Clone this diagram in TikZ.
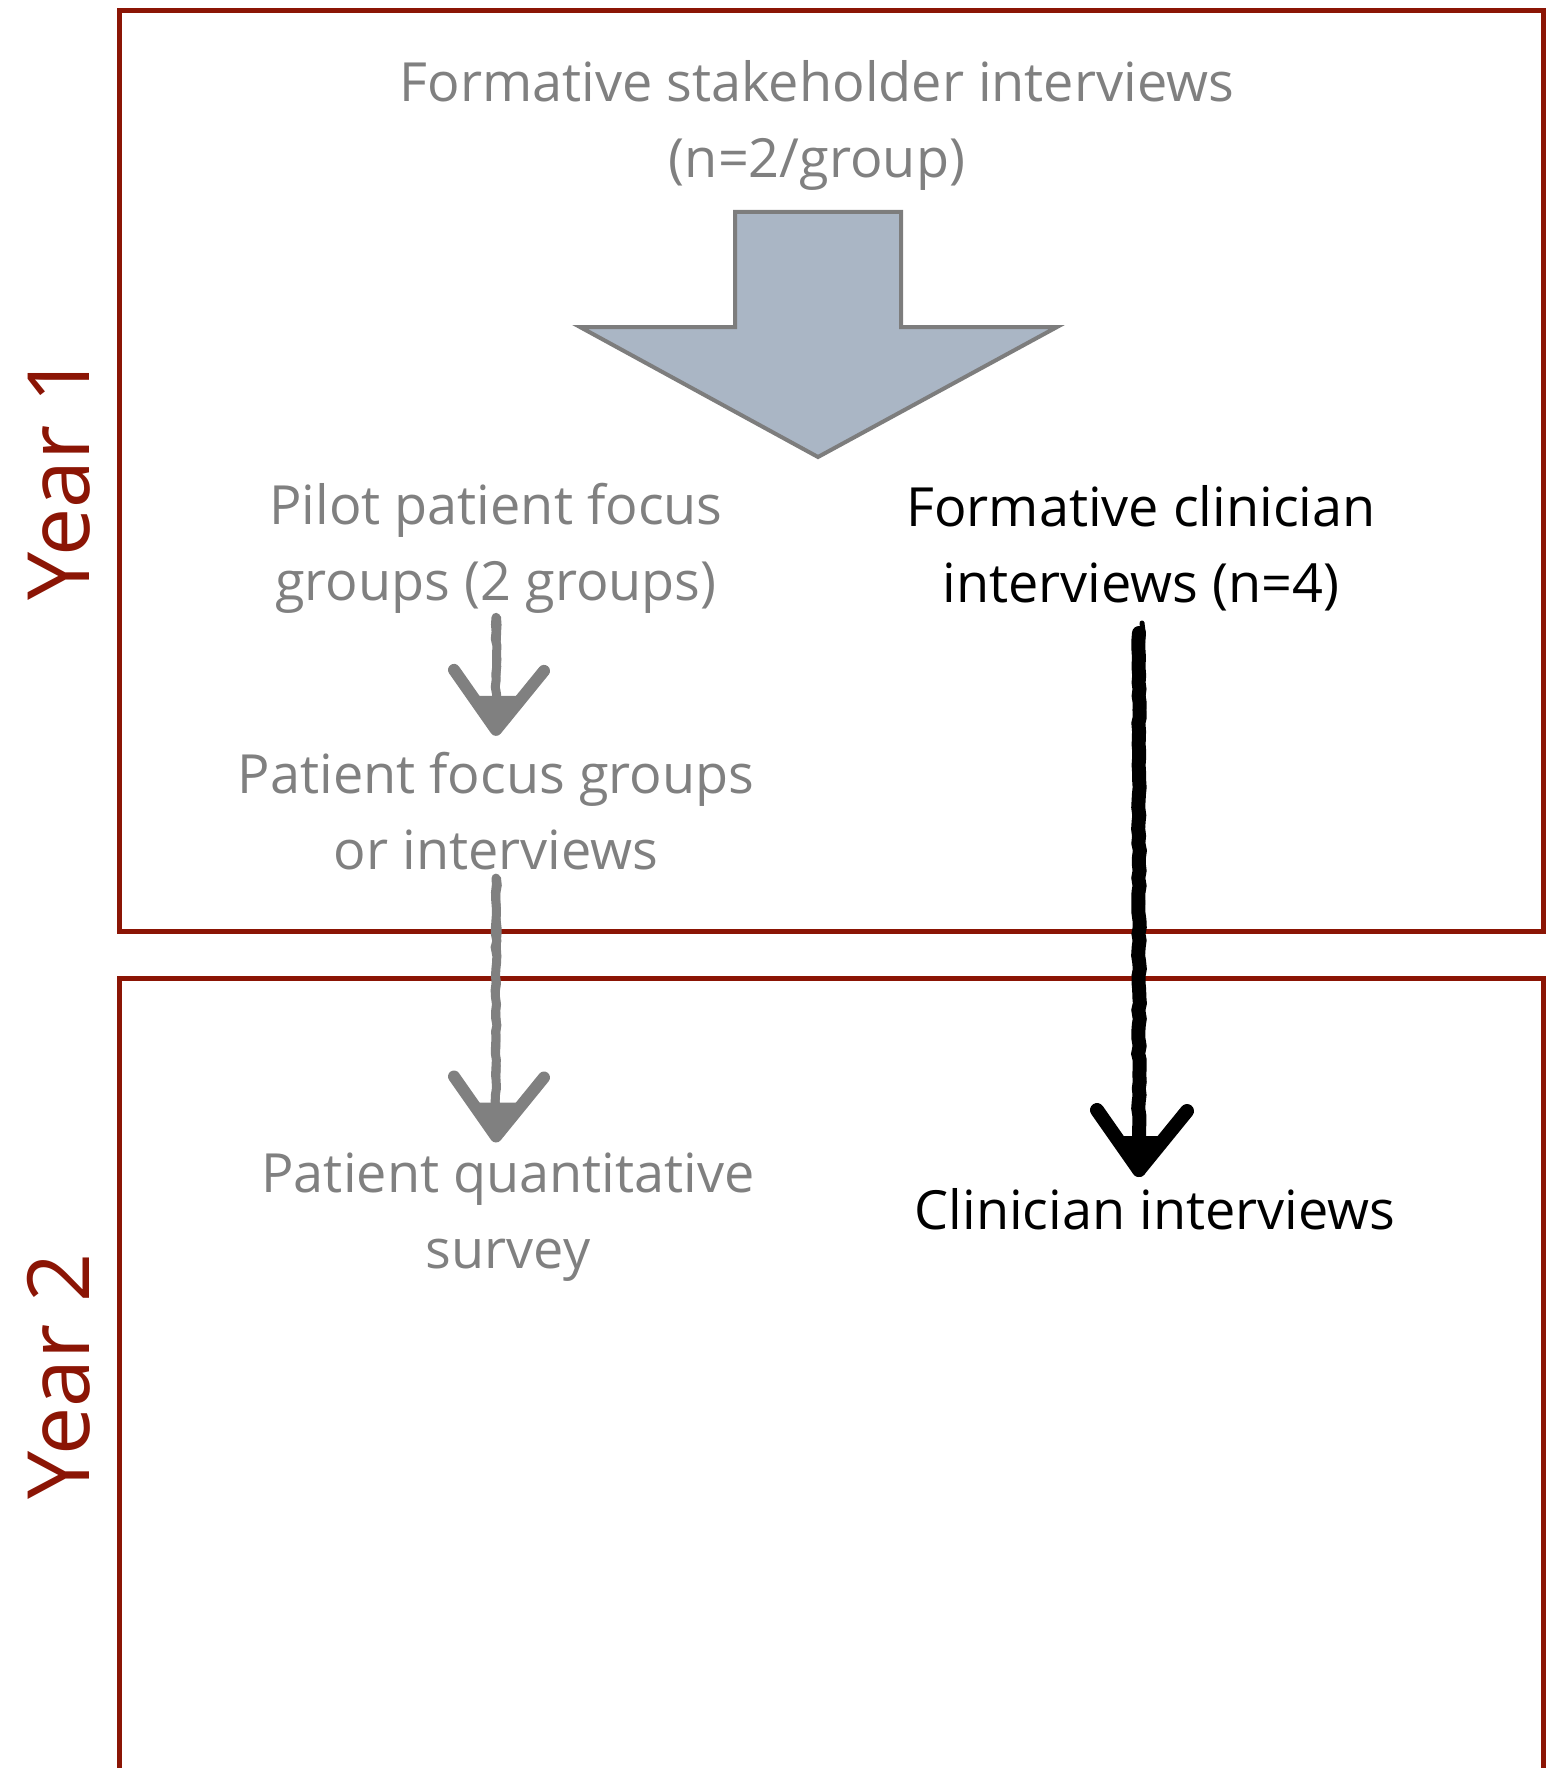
\documentclass[tikz,border=0pt]{standalone}
\usepackage{fontspec}
\setmainfont{Open Sans}
\usetikzlibrary{calc,decorations.pathmorphing}

\definecolor{yearred}{RGB}{139,21,5}
\definecolor{softgray}{RGB}{128,128,128}
\definecolor{bigfill}{RGB}{170,182,197}
\definecolor{bigline}{RGB}{125,125,125}

\tikzset{
  yearbox/.style={draw=yearred, line width=5pt},
  yearlabel/.style={text=yearred, rotate=90, font=\fontsize{86}{86}\selectfont, inner sep=0pt},
  stage/.style={align=center, inner sep=0pt, font=\fontsize{54}{76}\selectfont},
  greystage/.style={stage, text=softgray},
  darkstage/.style={stage, text=black},
  roughshaft/.style={line cap=round, decorate,
    decoration={random steps, segment length=7pt, amplitude=0.9pt}},
  roughhead/.style={line cap=round, line join=round, line width=12pt},
}

% brush-like arrow head ending at the given coordinate
\newcommand{\brushhead}[3]{%
  \draw[#1, roughhead, line width=#2] ($(#3)+(-42,-60)$) -- (#3) -- ($(#3)+(48,-59)$);
  \fill[#1] ($(#3)+(-22,-34)$) -- (#3) -- ($(#3)+(24,-34)$) -- cycle;
}

\begin{document}
\begin{tikzpicture}[x=1pt, y=-1pt]
  \pgfmathsetseed{42}
  \useasboundingbox (0,0) rectangle (1553,1768);

  % year frames (the second one runs off the bottom)
  \draw[yearbox] (119,11) rectangle (1543,931);
  \draw[yearbox] (119,1790) -- (119,978) -- (1543,978) -- (1543,1790);

  \node[yearlabel] (y1) at (59,477) {Year 1};
  \node[yearlabel] (y2) at (59,1376) {Year 2};

  % stages
  \node[greystage] (stake) at (817,125) {Formative stakeholder interviews\\(n=2/group)};
  \node[greystage] (pilot) at (496,548) {Pilot patient focus\\groups (2 groups)};
  \node[darkstage] (fci) at (1141,548) {Formative clinician\\interviews (n=4)};
  \node[greystage] (pfg) at (496,811) {Patient focus groups\\or interviews};
  \node[greystage] (pqs) at (508,1217) {Patient quantitative\\survey};
  \node[darkstage] (ci) at (1155,1209) {Clinician interviews};

  % broad block arrow below the stakeholder interviews
  \draw[fill=bigfill, draw=bigline, line width=4pt, line join=miter]
    (735,212) -- (901,212) -- (901,327) -- (1057,327) -- (818,457)
    -- (580,327) -- (735,327) -- cycle;

  % hand-drawn connectors
  \coordinate (a1s) at ([yshift=-4pt]pilot.south);
  \coordinate (a1e) at ([yshift=22pt]a1s |- pfg.north);
  \draw[softgray, line width=9pt, roughshaft] (a1s) -- (a1e);
  \draw[softgray, line width=4pt, roughshaft] ($(a1s)+(3,0)$) -- ($(a1e)+(2,-20)$);
  \brushhead{softgray}{12pt}{a1e}

  \coordinate (a2s) at ([yshift=-8pt]pfg.south);
  \coordinate (a2e) at ([yshift=16pt]a2s |- pqs.north);
  \draw[softgray, line width=9pt, roughshaft] (a2s) -- (a2e);
  \draw[softgray, line width=4pt, roughshaft] ($(a2s)+(3,0)$) -- ($(a2e)+(2,-20)$);
  \brushhead{softgray}{12pt}{a2e}

  \coordinate (a3s) at ([xshift=-2pt, yshift=-22pt]fci.south);
  \coordinate (a3e) at ([yshift=18pt]a3s |- ci.north);
  \draw[black, line width=14pt, roughshaft] (a3s) -- (a3e);
  \draw[black, line width=5pt, roughshaft] ($(a3s)+(3,-10)$) -- ($(a3e)+(3,-20)$);
  \brushhead{black}{14pt}{a3e}
\end{tikzpicture}
\end{document}
